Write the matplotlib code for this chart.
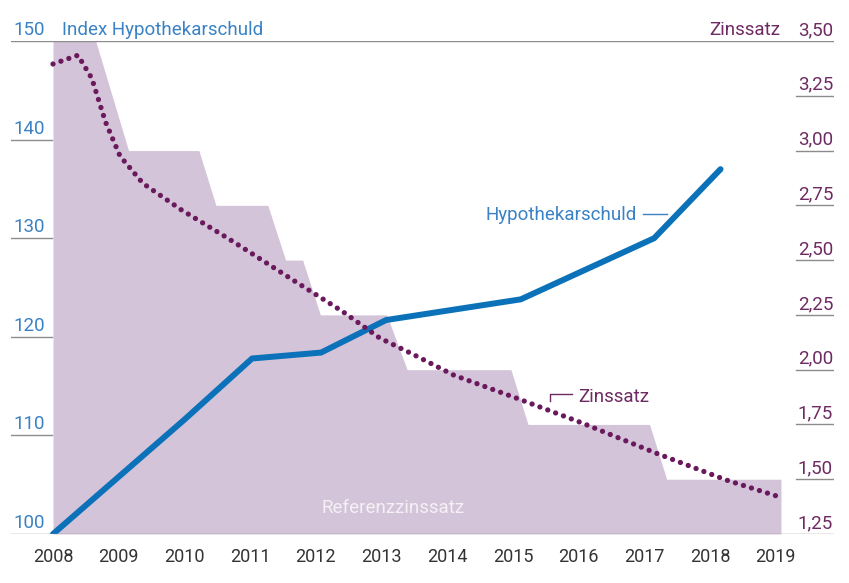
import matplotlib
matplotlib.use('Agg')
import matplotlib.pyplot as plt

plt.rcParams['font.family'] = ['Roboto', 'DejaVu Sans']
plt.rcParams['font.weight'] = 'normal'

# Index Hypothekarschuld (left axis)
hypo_x = [2008.0, 2010.0, 2011.03, 2012.08, 2013.07, 2015.12, 2017.15, 2018.16]
hypo_y = [100.0, 111.6, 117.8, 118.4, 121.7, 123.8, 130.0, 137.0]

# Zinssatz (right axis), dotted
zins_x = [2008.0, 2008.38, 2008.59, 2008.8, 2009.02, 2009.37, 2009.95, 2010.66,
          2011.0, 2011.7, 2012.41, 2012.97, 2013.48, 2014.1, 2015.1, 2016.05,
          2017.17, 2018.24, 2019.05]
zins_y = [3.395, 3.435, 3.33, 3.13, 2.975, 2.85, 2.73, 2.60,
          2.535, 2.40, 2.265, 2.145, 2.07, 1.975, 1.865, 1.757,
          1.62, 1.497, 1.42]

# Referenzzinssatz (right axis), shaded area
ref_x = [2008.0, 2008.65, 2009.15, 2010.22, 2010.48, 2011.27, 2011.54, 2011.8,
         2012.07, 2013.08, 2013.39, 2014.97, 2015.23, 2017.08, 2017.34, 2019.08]
ref_y = [3.50, 3.50, 3.00, 3.00, 2.75, 2.75, 2.50, 2.50,
         2.25, 2.25, 2.00, 2.00, 1.75, 1.75, 1.50, 1.50]

years = list(range(2008, 2020))
left_ticks = [100, 110, 120, 130, 140, 150]
right_ticks = [1.25, 1.50, 1.75, 2.00, 2.25, 2.50, 2.75, 3.00, 3.25, 3.50]

BLUE = '#0b72b9'
BLUE_TXT = '#3a82c4'
PURPLE = '#6a1a5c'
PURPLE_TXT = '#6e2a62'
SHADE = '#d4c4d9'
GRAY = '#8c8c8c'
FS = 13.5

fig = plt.figure(figsize=(8.49, 5.83), dpi=100)
pos = [11 / 849, 49 / 583, 823 / 849, 493 / 583]
ax = fig.add_axes(pos)
axh = ax.twinx()
axz = ax.twinx()

xlim = (2007.361, 2019.887)
for a in (ax, axh, axz):
    a.set_xlim(*xlim)
    for s in a.spines.values():
        s.set_visible(False)
    a.tick_params(left=False, right=False, labelleft=False, labelright=False)
ax.set_ylim(1.25, 3.50)
axz.set_ylim(1.25, 3.50)
axh.set_ylim(100, 150)

# shaded reference rate
ax.fill_between(ref_x, ref_y, 1.25, color=SHADE, linewidth=0)
ax.text(2013.17, 1.346, 'Referenzzinssatz', color='#f4f0f5', fontsize=FS,
        ha='center', va='baseline')

# hypothek line
axh.plot(hypo_x, hypo_y, color=BLUE, linewidth=4.3, solid_capstyle='round',
         solid_joinstyle='miter', zorder=3)

# zinssatz dotted line
axz.plot(zins_x, zins_y, color=PURPLE, linewidth=3.8,
         linestyle=(0, (0.01, 1.58)), dash_capstyle='round', zorder=4)

# x ticks
ax.set_xticks(years)
ax.set_xticklabels([str(y) for y in years])
ax.tick_params(axis='x', length=0, pad=10, labelsize=13, labelcolor='#333333')

# frame lines
axh.axhline(150, color=GRAY, linewidth=1, zorder=1)
axh.axhline(100, color=GRAY, linewidth=1, zorder=5)
for v in left_ticks[1:-1]:
    axh.axhline(v, xmin=0, xmax=41 / 823, color=GRAY, linewidth=1)
for v in right_ticks[1:-1]:
    axz.axhline(v, xmin=785 / 823, xmax=1, color=GRAY, linewidth=1)

# tick labels above the lines
for v in left_ticks:
    axh.annotate(str(v), xy=(0, v), xycoords=('axes fraction', 'data'),
                 xytext=(1.5, 4.3), textcoords='offset points',
                 ha='left', va='baseline', fontsize=FS, color=BLUE_TXT)
for v in right_ticks:
    axz.annotate(f'{v:.2f}'.replace('.', ','), xy=(1, v),
                 xycoords=('axes fraction', 'data'),
                 xytext=(-0.7, 4.3), textcoords='offset points',
                 ha='right', va='baseline', fontsize=FS, color=PURPLE_TXT)

# axis titles
axh.annotate('Index Hypothekarschuld', xy=(0, 150), xycoords=('axes fraction', 'data'),
             xytext=(36.5, 4.3), textcoords='offset points',
             ha='left', va='baseline', fontsize=FS, color=BLUE_TXT)
axz.annotate('Zinssatz', xy=(1, 3.5), xycoords=('axes fraction', 'data'),
             xytext=(-38.5, 4.3), textcoords='offset points',
             ha='right', va='baseline', fontsize=FS, color=PURPLE_TXT)

# series labels
axh.text(2016.89, 131.85, 'Hypothekarschuld', color=BLUE_TXT, fontsize=FS,
         ha='right', va='baseline')
axh.plot([2016.98, 2017.35], [132.45, 132.45], color=BLUE_TXT, linewidth=1)
axz.text(2015.99, 1.853, 'Zinssatz', color=PURPLE_TXT, fontsize=FS,
         ha='left', va='baseline')
axz.plot([2015.56, 2015.56, 2015.9], [1.857, 1.889, 1.889], color=PURPLE_TXT, linewidth=1)

fig.savefig('out.png', dpi=100)
